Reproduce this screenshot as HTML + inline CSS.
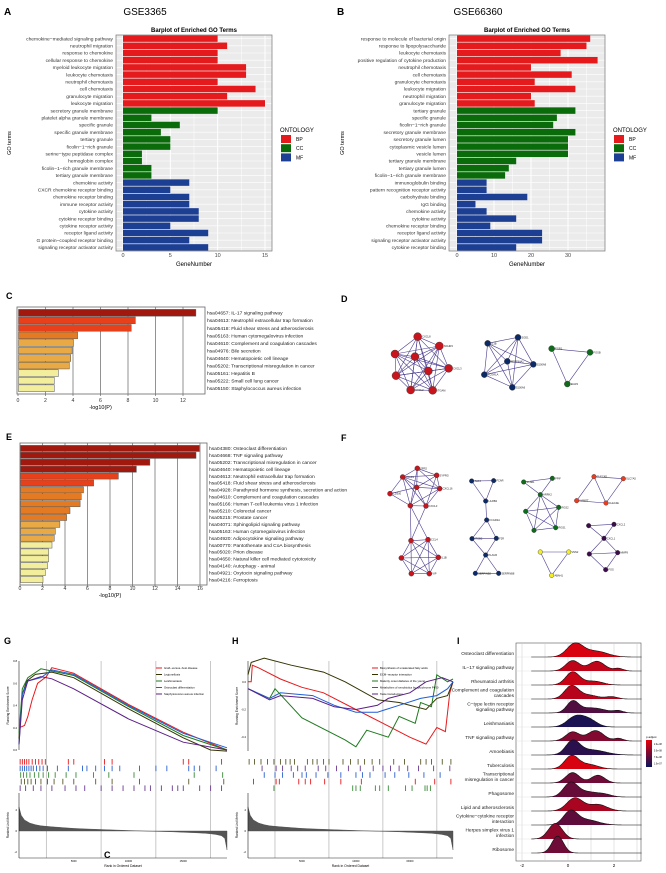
<!DOCTYPE html>
<html><head><meta charset="utf-8">
<style>
body{margin:0;background:#fff;}
svg{display:block;font-family:"Liberation Sans",sans-serif;}
</style></head>
<body>
<svg id="fig" width="666" height="873" viewBox="0 0 666 873" xmlns="http://www.w3.org/2000/svg">
<text x="4" y="15" font-size="10" font-weight="bold">A</text>
<text x="145" y="15" font-size="10" text-anchor="middle">GSE3365</text>
<text x="337" y="15" font-size="10" font-weight="bold">B</text>
<text x="478" y="15" font-size="10" text-anchor="middle">GSE66360</text>
<text x="6" y="299" font-size="9" font-weight="bold">C</text>
<text x="6" y="440" font-size="9" font-weight="bold">E</text>
<text x="341" y="302" font-size="9" font-weight="bold">D</text>
<text x="341" y="441" font-size="9" font-weight="bold">F</text>
<text x="4" y="644" font-size="9" font-weight="bold">G</text>
<text x="232" y="644" font-size="9" font-weight="bold">H</text>
<text x="457" y="644" font-size="9" font-weight="bold">I</text>
<text x="104" y="858" font-size="9" font-weight="bold">C</text>
<g id="root"></g>
</svg>
<script>
// ---------- Data ----------
const goTermsA = ["chemokine−mediated signaling pathway","neutrophil migration","response to chemokine","cellular response to chemokine","myeloid leukocyte migration","leukocyte chemotaxis","neutrophil chemotaxis","cell chemotaxis","granulocyte migration","leukocyte migration","secretory granule membrane","platelet alpha granule membrane","specific granule","specific granule membrane","tertiary granule","ficolin−1−rich granule","serine−type peptidase complex","hemoglobin complex","ficolin−1−rich granule membrane","tertiary granule membrane","chemokine activity","CXCR chemokine receptor binding","chemokine receptor binding","immune receptor activity","cytokine activity","cytokine receptor binding","cytokine receptor activity","receptor ligand activity","G protein−coupled receptor binding","signaling receptor activator activity"];
const goCountsA = [10,11,10,10,13,13,10,14,11,15,10,3,6,4,5,5,2,2,3,3,7,5,7,7,8,8,5,9,7,9];
const goTermsB = ["response to molecule of bacterial origin","response to lipopolysaccharide","leukocyte chemotaxis","positive regulation of cytokine production","neutrophil chemotaxis","cell chemotaxis","granulocyte chemotaxis","leukocyte migration","neutrophil migration","granulocyte migration","tertiary granule","specific granule","ficolin−1−rich granule","secretory granule membrane","secretory granule lumen","cytoplasmic vesicle lumen","vesicle lumen","tertiary granule membrane","tertiary granule lumen","ficolin−1−rich granule membrane","immunoglobulin binding","pattern recognition receptor activity","carbohydrate binding","IgG binding","chemokine activity","cytokine activity","chemokine receptor binding","receptor ligand activity","signaling receptor activator activity","cytokine receptor binding"];
const goCountsB = [36,35,28,38,20,31,21,32,20,21,32,27,26,32,30,30,30,16,14,13,8,8,19,5,8,16,9,23,23,16];
const ontology = ["BP","BP","BP","BP","BP","BP","BP","BP","BP","BP","CC","CC","CC","CC","CC","CC","CC","CC","CC","CC","MF","MF","MF","MF","MF","MF","MF","MF","MF","MF"];
const ticksA = [0,5,10,15];
const ticksB = [0,10,20,30];

const keggTermsC = ["hsa04657: IL-17 signaling pathway","hsa04613: Neutrophil extracellular trap formation","hsa05418: Fluid shear stress and atherosclerosis","hsa05163: Human cytomegalovirus infection","hsa04610: Complement and coagulation cascades","hsa04976: Bile secretion","hsa04640: Hematopoietic cell lineage","hsa05202: Transcriptional misregulation in cancer","hsa05161: Hepatitis B","hsa05222: Small cell lung cancer","hsa05150: Staphylococcus aureus infection"];
const keggValsC = [12.9,8.5,8.2,4.3,4.0,3.9,3.8,3.7,2.9,2.6,2.6];
const keggTierC = [0,1,1,2,3,3,3,3,4,4,4];
const ticksC = [0,2,4,6,8,10,12];
const keggTermsE = ["hsa04380: Osteoclast differentiation","hsa04668: TNF signaling pathway","hsa05202: Transcriptional misregulation in cancer","hsa04640: Hematopoietic cell lineage","hsa04613: Neutrophil extracellular trap formation","hsa05418: Fluid shear stress and atherosclerosis","hsa04928: Parathyroid hormone synthesis, secretion and action","hsa04610: Complement and coagulation cascades","hsa05166: Human T-cell leukemia virus 1 infection","hsa05210: Colorectal cancer","hsa05215: Prostate cancer","hsa04071: Sphingolipid signaling pathway","hsa05163: Human cytomegalovirus infection","hsa04920: Adipocytokine signaling pathway","hsa00770: Pantothenate and CoA biosynthesis","hsa05020: Prion disease","hsa04650: Natural killer cell mediated cytotoxicity","hsa04140: Autophagy - animal","hsa04921: Oxytocin signaling pathway","hsa04216: Ferroptosis"];
const keggValsE = [15.9,15.6,11.5,10.3,8.7,6.5,5.6,5.4,5.3,4.4,4.1,3.5,3.1,3.0,2.8,2.5,2.5,2.4,2.2,2.0];
const keggTierE = [0,0,0,0,1,1,2,2,2,2,2,3,3,3,4,4,4,4,4,4];
const ticksE = [0,2,4,6,8,10,12,14,16];

const gseaNamesG = ["Graft−versus−host disease","Legionellosis","Leishmaniasis","Osteoclast differentiation","Staphylococcus aureus infection"];
const esG0 = [[0,0.2],[500,0.22],[800,0.3],[1200,0.45],[1700,0.6],[2500,0.66],[3000,0.74],[5000,0.69],[10000,0.41],[15000,0.16],[19000,0.0]];
const esG1 = [[0,0.1],[300,0.5],[700,0.62],[1500,0.68],[3000,0.70],[5000,0.65],[10000,0.37],[15000,0.11],[17500,0.0],[19000,-0.01]];
const esG2 = [[0,0.15],[300,0.55],[800,0.65],[2000,0.73],[3000,0.71],[5000,0.67],[10000,0.39],[15000,0.13],[19000,0.0]];
const esG3 = [[0,0.05],[300,0.5],[800,0.62],[2000,0.65],[3000,0.72],[5000,0.68],[10000,0.4],[15000,0.15],[19000,0.02]];
const esG4 = [[0,0.05],[300,0.45],[800,0.62],[2000,0.66],[3000,0.64],[5000,0.55],[10000,0.28],[15000,0.07],[19000,0.0]];
const hitsG0 = [100,300,500,700,900,1200,1500,1800,2100,2400,4500,5000,7800,8500,15000,15500,18500];
const hitsG1 = [200,500,800,1100,1500,2000,2600,3200,4000,5000,7000,8500,11000,15500,18700];
const hitsG2 = [150,400,700,1000,1400,1800,2200,2700,3300,4300,5200,6800,8200,10500,16000,18600];
const hitsG3 = [100,300,500,700,900,1100,1300,1600,1900,2200,2600,3500,4500,5800,6200,7000,7800,8500,9200,11000,12500,13500,15500,16000,16500,18000];
const hitsG4 = [100,600,1300,2000,3000,4200,5200,6000,7500,8500,9500,10500,11500,12000,13000,14000,14500,15000,16500,17500,18500];
const gseaNamesH = ["Biosynthesis of unsaturated fatty acids","ECM−receptor interaction","Maturity onset diabetes of the young","Metabolism of xenobiotics by cytochrome P450","Taste transduction"];
const esH0 = [[0,0],[300,0],[400,0.12],[1000,0.1],[3000,0.02],[5000,-0.04],[7000,-0.08],[10000,-0.2],[13000,-0.32],[15000,-0.4],[16500,-0.45],[17500,-0.33],[18300,-0.36],[18700,-0.08],[19000,0.0]];
const esH1 = [[0,0.05],[300,0.14],[1500,0.17],[4000,0.12],[7000,0.07],[9000,0.0],[12000,-0.13],[14000,-0.15],[16500,-0.2],[17500,-0.12],[18500,-0.1],[19000,0.0]];
const esH2 = [[0,-0.05],[2000,-0.12],[2500,-0.05],[5000,-0.26],[9000,-0.42],[10000,-0.47],[11000,-0.35],[13000,-0.4],[14000,-0.25],[15500,-0.3],[16000,-0.15],[17000,-0.18],[17500,0.05],[18500,0.0],[19000,0.02]];
const esH3 = [[0,-0.05],[2000,-0.12],[3000,-0.08],[6000,-0.1],[8000,-0.17],[10000,-0.22],[12000,-0.22],[14000,-0.17],[16000,-0.12],[17500,-0.1],[18500,-0.05],[19000,0.0]];
const esH4 = [[0,-0.05],[2000,-0.13],[3000,-0.1],[6000,-0.12],[8000,-0.18],[10000,-0.2],[12000,-0.17],[13000,-0.12],[15000,-0.08],[16500,0.0],[18000,0.03],[19000,0.0]];
const hitsH1 = [100,600,1200,1800,2400,3000,3500,3900,4300,5500,6000,6400,7000,7500,8800,9500,10200,10800,11500,12200,13500,14500,16000,16500,17000,18000,18800];
const hitsH4 = [1300,2600,3200,4000,4600,5300,6500,7200,8200,9300,10400,11600,12500,13200,14000,14800,15800,17200,18700];
const hitsH3 = [1500,2500,3200,4200,5000,5400,6300,7400,8600,10000,10600,11300,12700,13600,14900,16300,17800];
const hitsH0 = [500,2600,2900,4700,5300,5800,7100,8600,10500,15500,17300,18800];
const hitsH2 = [2400,9700,10000,10400,11800,12200,13000,14600,15200,16400,16600,16900];
const metricRank = [0,200,500,1000,1500,2000,3000,4000,5000,6000,8000,10000,12000,14000,15000,16000,17000,17500,18000,18500,18800,19000];
const metricVal = [2.3,1.5,1.05,0.75,0.6,0.5,0.4,0.32,0.25,0.2,0.12,0.05,-0.02,-0.08,-0.12,-0.16,-0.22,-0.27,-0.33,-0.45,-0.7,-1.8];

const ridgeLabels = ["Osteoclast differentiation","IL−17 signaling pathway","Rheumatoid arthritis","Complement and coagulation|cascades","C−type lectin receptor|signaling pathway","Leishmaniasis","TNF signaling pathway","Amoebiasis","Tuberculosis","Transcriptional|misregulation in cancer","Phagosome","Lipid and atherosclerosis","Cytokine−cytokine receptor|interaction","Herpes simplex virus 1|infection","Ribosome"];
const ridgePadj = [1.5e-8,2.0e-8,1.8e-8,2.2e-8,7e-8,1.3e-7,4e-8,1.1e-7,1.5e-8,5e-8,5.5e-8,2.5e-8,6e-8,3.5e-8,5e-8];
const ridgeMix = [
 [[0.3,0.35,1],[1.2,0.5,0.45]],
 [[0.2,0.3,0.8],[1.25,0.35,0.75],[2.2,0.2,0.2]],
 [[0.2,0.3,1],[1.1,0.4,0.3]],
 [[0.15,0.3,1],[0.9,0.4,0.3],[1.9,0.25,0.18]],
 [[0.2,0.25,0.8],[1.0,0.6,0.4],[2.2,0.2,0.15]],
 [[0.3,0.35,0.75],[0.9,0.35,0.55]],
 [[0.2,0.3,0.7],[1.2,0.35,0.8],[2.2,0.2,0.2]],
 [[0.2,0.3,1],[1.0,0.6,0.4]],
 [[0.15,0.3,1],[0.9,0.4,0.35]],
 [[0.2,0.3,0.8],[1.3,0.3,0.6]],
 [[0.1,0.3,1],[0.8,0.5,0.4],[1.6,0.3,0.15]],
 [[0.3,0.35,1],[1.3,0.4,0.5]],
 [[0.1,0.3,1],[0.8,0.5,0.4]],
 [[-0.55,0.3,1.2]],
 [[-0.45,0.25,1.3]]
];
const ridgeTicks = [-2,0,2];

// ---------- Helpers ----------
const NS="http://www.w3.org/2000/svg";
const root=document.getElementById('root');
function mk(tag,attrs,parent,txt){const e=document.createElementNS(NS,tag);for(const k in attrs)e.setAttribute(k,attrs[k]);if(txt!==undefined)e.textContent=txt;(parent||root).appendChild(e);return e;}
const ontColor={BP:"#e41a1c",CC:"#0a6b0a",MF:"#1c3f94"};

// ---------- GO barplots ----------
function goPlot(ox,terms,counts,ticks,maxV,x0px,x1px,pfx){
  const g=mk('g',{});
  
  
  const left=ox+116,right=ox+272,top=35,bot=251;
  const xs=v=>x0px+(x1px-x0px)*v/maxV;
  mk('rect',{x:left,y:top,width:right-left,height:bot-top,fill:'#ebebeb'},g);
  ticks.forEach((t,i)=>{mk('line',{x1:xs(t),x2:xs(t),y1:top,y2:bot,stroke:'#fff','stroke-width':1},g);
    if(i<ticks.length-1){const m=(xs(t)+xs(ticks[i+1]))/2;mk('line',{x1:m,x2:m,y1:top,y2:bot,stroke:'#fff','stroke-width':0.5},g);}
    const tl=mk('text',{x:xs(t),y:257,'font-size':5.5,'text-anchor':'middle',fill:'#444'},g,String(t));
    
    
  });
  {const m=xs(ticks[ticks.length-1])+(xs(ticks[1])-xs(0))/2; if(m<right) mk('line',{x1:m,x2:m,y1:top,y2:bot,stroke:'#fff','stroke-width':0.5},g);}
  const pitch=(bot-top)/terms.length;
  terms.forEach((t,i)=>{
    const cy=top+pitch*(i+0.5);
    mk('line',{x1:left,x2:right,y1:cy,y2:cy,stroke:'#fff','stroke-width':0.6},g);
    const b=mk('rect',{x:xs(0),y:cy-pitch*0.45,width:xs(counts[i])-xs(0),height:pitch*0.9,fill:ontColor[ontology[i]]},g);
    
    
    const l=mk('text',{x:left-3,y:cy+1.7,'font-size':4.9,'text-anchor':'end',fill:'#333'},g,t);
    
    
  });
  mk('rect',{x:left,y:top,width:right-left,height:bot-top,fill:'none',stroke:'#777','stroke-width':0.7},g);
  mk('text',{x:(left+right)/2,y:32,'font-size':6,'font-weight':'bold','text-anchor':'middle'},g,'Barplot of Enriched GO Terms');
  const xt=mk('text',{x:(left+right)/2,y:266,'font-size':6,'text-anchor':'middle'},g,'GeneNumber');
  
  
  const yt=mk('text',{x:0,y:0,'font-size':5.5,'text-anchor':'middle',transform:`translate(${ox+11},${(top+bot)/2}) rotate(-90)`},g,'GO terms');
  
  
  mk('text',{x:ox+280,y:132,'font-size':6},g,'ONTOLOGY');
  ["BP","CC","MF"].forEach((k,i)=>{
    const r=mk('rect',{x:ox+281,y:135+i*9.2,width:10,height:8,fill:ontColor[k]},g);
    
    
    mk('text',{x:ox+296,y:141+i*9.2,'font-size':5},g,k);
  });
}
goPlot(0,goTermsA,goCountsA,ticksA,15,123,265,'a');
goPlot(333,goTermsB,goCountsB,ticksB,30,457,568,'b');

// ---------- KEGG bars ----------
const tierCol=["#a0180e","#e8401a","#e47b22","#e9a945","#f3ee9c"];
function keggPlot(terms,vals,tiers,ticks,maxV,left,right,top,bot,zeroX,maxX,labY,pfx){
  const g=mk('g',{});
  
  
  const xs=v=>zeroX+(maxX-zeroX)*v/maxV;
  mk('rect',{x:left,y:top,width:right-left,height:bot-top,fill:'#fff',stroke:'#666','stroke-width':0.8},g);
  ticks.forEach(t=>{
    if(t>0)mk('line',{x1:xs(t),x2:xs(t),y1:top,y2:bot,stroke:'#777','stroke-width':0.8},g);
    mk('line',{x1:xs(t),x2:xs(t),y1:bot,y2:bot+2,stroke:'#555','stroke-width':0.6},g);
    const tl=mk('text',{x:xs(t),y:labY,'font-size':5.2,'text-anchor':'middle',fill:'#333'},g,String(t));
    
    
  });
  const pitch=(bot-top-4)/terms.length;
  terms.forEach((t,i)=>{
    const y=top+2+pitch*i;
    const b=mk('rect',{x:xs(0)+0.5,y:y+0.4,width:xs(vals[i])-xs(0),height:pitch-0.8,fill:tierCol[tiers[i]],stroke:'#555','stroke-width':0.5},g);
    
    
    const l=mk('text',{x:right+2,y:y+pitch*0.75,'font-size':4.9,fill:'#222'},g,t);
    
    
  });
  const xt=mk('text',{x:(zeroX+maxX)/2,y:labY+7,'font-size':5.5,'text-anchor':'middle'},g,'-log10(P)');
  
  
}
keggPlot(keggTermsC,keggValsC,keggTierC,ticksC,12,17,205,307,394,18,183,402,'c');
keggPlot(keggTermsE,keggValsE,keggTierE,ticksE,16,20,207,443,585,20,200,590,'e');

// ---------- Networks ----------
const netEdgesCol="#4b3d8f";
function cluster(nodes,color,r,labels,full){
  const g=mk('g',{});
  
  
  const P=nodes.map(p=>[360+p[0]/3,280+p[1]/3]);
  for(let i=0;i<P.length;i++)for(let j=i+1;j<P.length;j++){
    if(full===true||(Array.isArray(full)&&full.some(e=>(e[0]===i&&e[1]===j)||(e[0]===j&&e[1]===i))))
      mk('line',{x1:P[i][0],y1:P[i][1],x2:P[j][0],y2:P[j][1],stroke:netEdgesCol,'stroke-width':0.6},g);
  }
  P.forEach((p,i)=>{
    const c=mk('circle',{cx:p[0],cy:p[1],r:r,fill:color,stroke:'#333','stroke-width':0.4},g);
    
    
    if(labels&&labels[i])mk('text',{x:p[0]+r+0.5,y:p[1]+1,'font-size':2.6,fill:'#222'},g,labels[i]);
  });
}
cluster([[173,170],[238,198],[105,222],[165,230],[266,265],[205,273],[108,287],[152,330],[218,331]],'#c8141c',4,["CXCL8","NCHR3","","","CXCL3","","","CXCL2","ITGAM"],true);
cluster([[383,190],[474,172],[442,244],[520,253],[373,284],[457,322]],'#0c2a66',3,["IL1B","SOD1","SERPINA1","S100A8","FCGR1A","S100A9"],true);
cluster([[575,206],[690,217],[622,312]],'#0f6a1a',3,["EGR1","FOSB","EGR3"],true);
cluster([[172,565],[128,591],[230,586],[170,622],[239,626],[90,641],[151,677],[198,678],[153,782],[204,779],[124,834],[235,832],[154,881],[208,881]],'#c8141c',2.5,["FPR2","C5AR1","SYPRG","","CXCL16","CD300","","CXCL3","","CCL4","","IL1B","","VIP"],[[0,1],[0,2],[0,3],[0,4],[1,2],[1,3],[1,5],[1,6],[1,7],[2,3],[2,4],[3,4],[3,5],[3,6],[3,7],[4,6],[4,7],[5,6],[6,7],[2,7],[1,4],[0,6],[6,8],[7,8],[6,9],[8,9],[8,10],[8,11],[8,12],[8,13],[9,10],[9,11],[9,12],[9,13],[10,11],[10,12],[10,13],[11,12],[11,13],[12,13]]);
cluster([[335,603],[401,602],[377,663],[380,720],[336,776],[409,775],[377,825],[346,880],[416,880]],'#0c2a66',2.3,["TLR4","FCAR","LILRB2","FCGR2A","ITGB2","F2R","PLAUR","SERPINB2","SERPINB8"],[[0,1],[0,2],[1,2],[2,3],[3,4],[3,5],[4,5],[4,6],[5,6],[6,7],[6,8],[7,8]]);
cluster([[491,606],[577,595],[541,644],[497,694],[596,682],[522,751],[587,743]],'#0f6a1a',2.3,["STAB1","PPIF","ARRK2","","RGS2","","RGS1"],[[0,2],[1,2],[0,1],[2,3],[2,4],[2,5],[2,6],[3,4],[3,5],[3,6],[4,5],[4,6],[5,6]]);
cluster([[702,590],[790,596],[650,662],[738,669]],'#f03a1a',2.3,["CLEC4D","SLC7A5","NAMPT","CLEC4E"],[[0,1],[0,2],[0,3],[1,3],[2,3]]);
cluster([[686,737],[762,733],[732,775],[688,822],[773,818],[737,869]],'#3b0c4a',2.3,["","CXCL2","CXCL1","","MMP9","FOS"],[[0,1],[0,2],[1,2],[2,3],[2,4],[3,4],[3,5],[4,5]]);
cluster([[541,816],[626,816],[575,886]],'#f2ee2a',2.3,["","VNN2","ABAH1"],true);

// ---------- GSEA ----------
const gseaCols=["#e8191c","#333300","#1f7a1f","#1f5fd6","#5b1f86"];
const hitCols=["#e8191c","#5b5b2a","#3a8a3a","#2a5fcf","#6a3a8f"];
function gsea(pfx,left,right,esTop,esBot,esMin,esMax,esTicks,esList,hitsList,hitOrder,names,legX,grid,rankTicks){
  const g=mk('g',{});
  
  
  const rx=r=>left+(right-left)*r/19000;
  const ey=v=>esBot-(esBot-esTop)*(v-esMin)/(esMax-esMin);
  grid.forEach(r=>mk('line',{x1:rx(r),x2:rx(r),y1:esTop,y2:858,stroke:'#bbb','stroke-width':0.8},g));
  mk('line',{x1:left,x2:left,y1:esTop,y2:esBot,stroke:'#222','stroke-width':0.6},g);
  esTicks.forEach(t=>{mk('text',{x:left-2,y:ey(t)+1,'font-size':2.8,'text-anchor':'end'},g,t.toFixed(1));});
  mk('text',{x:0,y:0,'font-size':3.2,'text-anchor':'middle',transform:`translate(${left-10},${(esTop+esBot)/2}) rotate(-90)`},g,'Running Enrichment Score');
  esList.forEach((s,k)=>{
    const d=s.map((p,i)=>(i?'L':'M')+rx(p[0]).toFixed(1)+','+ey(p[1]).toFixed(1)).join('');
    const pth=mk('path',{d:d,fill:'none',stroke:gseaCols[k],'stroke-width':1},g);
    
    
  });
  names.forEach((n,k)=>{
    const y=668+k*6.5;
    mk('line',{x1:legX,x2:legX+6,y1:y,y2:y,stroke:gseaCols[k],'stroke-width':1},g);
    const t=mk('text',{x:legX+8,y:y+1,'font-size':2.8},g,n);
    
    
  });
  const rowH=6.6;
  hitOrder.forEach((k,row)=>{
    hitsList[row].forEach(r=>{
      mk('rect',{x:rx(r)-0.4,y:759+row*rowH,width:0.9,height:rowH-1,fill:hitCols[k]},g);
    });
  });
  const my=v=>831-v*10.5;
  let d='M'+rx(0)+','+my(0);
  metricRank.forEach((r,i)=>{d+='L'+rx(r).toFixed(1)+','+my(metricVal[i]).toFixed(1);});
  d+='L'+rx(19000)+','+my(0)+'Z';
  const a=mk('path',{d:d,fill:'#555',stroke:'#444','stroke-width':0.4},g);
  
  
  mk('line',{x1:left,x2:left,y1:793,y2:858,stroke:'#222','stroke-width':0.6},g);
  mk('line',{x1:left,x2:right,y1:858,y2:858,stroke:'#222','stroke-width':0.6},g);
  [2,0,-2].forEach(v=>mk('text',{x:left-2,y:my(v)+1,'font-size':2.8,'text-anchor':'end'},g,String(v)));
  mk('text',{x:0,y:0,'font-size':3.2,'text-anchor':'middle',transform:`translate(${left-10},825) rotate(-90)`},g,'Ranked List Metric');
  rankTicks.forEach(r=>mk('text',{x:rx(r),y:862,'font-size':2.6,'text-anchor':'middle'},g,String(r)));
  const xt=mk('text',{x:(left+right)/2,y:867,'font-size':3.4,'text-anchor':'middle'},g,'Rank in Ordered Dataset');
  
  
}
gsea('g',19,227,661,750,0,0.8,[0,0.2,0.4,0.6,0.8],[esG0,esG1,esG2,esG3,esG4],[hitsG0,hitsG3,hitsG2,hitsG1,hitsG4],[0,3,2,1,4],gseaNamesG,156,[2500,7500,12500,17500],[5000,10000,15000]);
gsea('h',248,453,661,751,-0.5,0.15,[0,-0.2,-0.4],[esH0,esH1,esH2,esH3,esH4],[hitsH1,hitsH4,hitsH3,hitsH0,hitsH2],[1,4,3,0,2],gseaNamesH,372,[2500,7500,12500,17500],[5000,10000,15000]);

// ---------- Ridges ----------
(function(){
  const g=mk('g',{});
  
  
  const L=516,R=641,T=643,B=861;
  const xs=v=>568+23*v;
  mk('rect',{x:L,y:T,width:R-L,height:B-T,fill:'#fff',stroke:'#555','stroke-width':0.6},g);
  [-2,-1,0,1,2,3].forEach(v=>{if(xs(v)>L&&xs(v)<R)mk('line',{x1:xs(v),x2:xs(v),y1:T,y2:B,stroke:'#ccc','stroke-width':0.5},g);});
  const pitch=14;
  function col(p){const t=Math.min(1,Math.max(0,(Math.log10(p)+7.9)/1.1));
    const c0=[230,0,10],c1=[10,20,90];return `rgb(${c0.map((c,i)=>Math.round(c+(c1[i]-c)*t)).join(',')})`;}
  ridgeLabels.forEach((lab,i)=>{
    const base=657+pitch*i;
    mk('line',{x1:L,x2:R,y1:base,y2:base,stroke:'#ddd','stroke-width':0.4},g);
  });
  ridgeLabels.forEach((lab,i)=>{
    const base=657+pitch*i;
    let pts=[];
    for(let x=-1.6;x<=3.2;x+=0.05){
      let v=0;ridgeMix[i].forEach(c=>{v+=c[2]*Math.exp(-0.5*((x-c[0])/c[1])**2);});
      pts.push([xs(x),base-v*13]);
    }
    const path='M'+pts.map(p=>p[0].toFixed(1)+','+p[1].toFixed(1)).join('L');
    const f=mk('path',{d:path+`L${xs(3.2)},${base}L${xs(-1.6)},${base}Z`,fill:col(ridgePadj[i]),stroke:'none'},g);
    
    
    mk('path',{d:path,fill:'none',stroke:'#111','stroke-width':0.6},g);
    const parts=lab.split('|');
    parts.forEach((p,k)=>{
      const t=mk('text',{x:L-2,y:base-2-(parts.length-1-k)*5.5,'font-size':4.8,'text-anchor':'end',fill:'#222'},g,p);
      
      
    });
  });
  ridgeTicks.forEach(v=>mk('text',{x:xs(v),y:867,'font-size':4.5,'text-anchor':'middle'},g,String(v)));
  mk('text',{x:646,y:738,'font-size':3},g,'p.adjust');
  const defs=mk('defs',{},g);
  const lg=mk('linearGradient',{id:'cb',x1:0,y1:0,x2:0,y2:1},defs);
  mk('stop',{offset:0,'stop-color':'#e6000a'},lg);
  mk('stop',{offset:1,'stop-color':'#0a145a'},lg);
  const cb=mk('rect',{x:646,y:740,width:6,height:27,fill:'url(#cb)'},g);
  
  
  ["2.0e-08","5.0e-08","7.0e-08","1.0e-07"].forEach((t,i)=>mk('text',{x:654,y:745+i*6.5,'font-size':2.3},g,t));
})();
</script>
</body></html>
